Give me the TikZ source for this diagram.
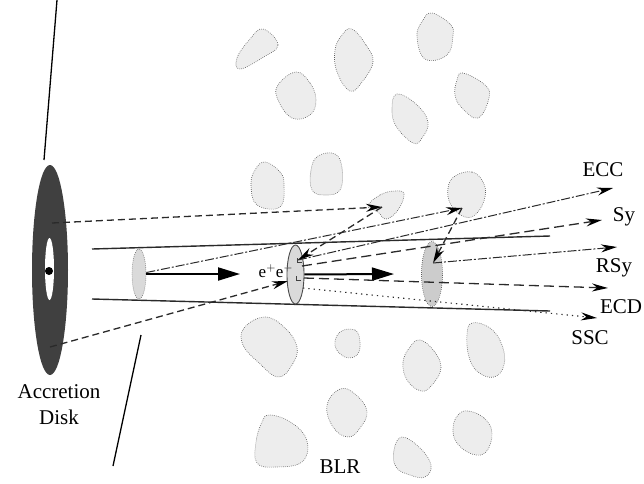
\documentclass[tikz,border=0pt]{standalone}
\usepackage{fontspec}
\setmainfont{Liberation Serif}
\usetikzlibrary{arrows.meta,shapes.geometric}
\definecolor{DiskGray}{HTML}{404040}
\definecolor{CloudFill}{HTML}{EDEDED}
\definecolor{BlobFill}{HTML}{DADADA}
\definecolor{LineGray}{HTML}{2A2A2A}

\begin{document}
\begin{tikzpicture}[x=1pt,y=-1pt,
    cloud/.style={draw=gray!70!black,dash pattern=on .7pt off 1.3pt,line width=.6pt,fill=CloudFill},
    blob/.style={ellipse,draw=gray!70!black,dash pattern=on .7pt off 1.3pt,line width=.6pt,fill=BlobFill,inner sep=0pt},
    lbl/.style={font=\fontsize{21}{26}\selectfont,inner sep=0pt},
    jet/.style={line width=1.4pt,LineGray},
    sight/.style={line width=1.3pt,black},
    push/.style={-{Triangle[length=22pt,width=13pt]},line width=2pt},
    ray/.style={-{Stealth[length=16pt,width=8pt,fill=black,color=black]},line width=1.3pt,LineGray},
    photon/.style={ray,dash pattern=on 7pt off 4pt},
    longdash/.style={ray,dash pattern=on 10pt off 5pt},
    dashdot/.style={ray,line width=1pt,dash pattern=on 9pt off 2pt on 2pt off 2pt},
    dots/.style={ray,line width=1.1pt,dash pattern=on 1.3pt off 4pt}]
  \useasboundingbox (0,0) rectangle (644,483);

  % broad line region clouds
  \draw[cloud] plot[smooth cycle,tension=.7] coordinates {(263,29) (278,45) (262,58) (240,69) (237,58) (250,39)};
  \draw[cloud] plot[smooth cycle,tension=.7] coordinates {(352,29) (366,45) (373,62) (362,82) (350,91) (337,72) (335,50) (342,35)};
  \draw[cloud] plot[smooth cycle,tension=.7] coordinates {(432,13) (450,24) (453,35) (447,55) (425,59) (417,36) (423,20)};
  \draw[cloud] plot[smooth cycle,tension=.7] coordinates {(296,72) (310,83) (316,100) (310,115) (292,118) (278,100) (278,85)};
  \draw[cloud] plot[smooth cycle,tension=.7] coordinates {(397,94) (416,104) (428,122) (422,138) (413,143) (396,126) (392,108)};
  \draw[cloud] plot[smooth cycle,tension=.7] coordinates {(463,73) (485,85) (489,98) (478,118) (462,108) (455,95) (457,80)};
  \draw[cloud] plot[smooth cycle,tension=.7] coordinates {(265,162) (280,172) (284,185) (280,207) (257,205) (251,185) (255,170)};
  \draw[cloud] plot[smooth cycle,tension=.7] coordinates {(318,156) (335,154) (342,168) (340,190) (325,195) (312,190) (311,170)};
  \draw[cloud] plot[smooth cycle,tension=.7] coordinates {(368,206) (380,195) (395,191) (404,194) (398,210) (386,219) (378,212)};
  \draw[cloud] plot[smooth cycle,tension=.7] coordinates {(455,176) (472,172) (483,182) (485,197) (477,213) (465,217) (451,205) (448,188)};
  \draw[cloud] plot[smooth cycle,tension=.7] coordinates {(265,317) (285,328) (297,347) (292,365) (278,377) (258,362) (243,345) (244,328)};
  \draw[cloud] plot[smooth cycle,tension=.7] coordinates {(340,332) (355,330) (360,342) (357,355) (345,357) (335,346)};
  \draw[cloud] plot[smooth cycle,tension=.7] coordinates {(420,340) (434,351) (441,368) (432,385) (421,391) (407,380) (403,362) (410,347)};
  \draw[cloud] plot[smooth cycle,tension=.7] coordinates {(472,323) (490,328) (502,345) (504,365) (494,377) (478,372) (469,357) (467,335)};
  \draw[cloud] plot[smooth cycle,tension=.7] coordinates {(340,389) (355,394) (367,411) (360,428) (348,437) (333,427) (327,405)};
  \draw[cloud] plot[smooth cycle,tension=.7] coordinates {(270,415) (292,423) (307,441) (302,462) (275,467) (257,463) (256,442) (262,422)};
  \draw[cloud] plot[smooth cycle,tension=.7] coordinates {(402,437) (420,448) (431,465) (425,477) (410,475) (396,467) (394,450)};
  \draw[cloud] plot[smooth cycle,tension=.7] coordinates {(468,411) (484,418) (492,433) (486,452) (472,454) (457,443) (453,428) (458,415)};

  % line of sight
  \coordinate (s1) at (57,0);
  \coordinate (s2) at (44,160);
  \coordinate (s3) at (141,335);
  \coordinate (s4) at (113,466);
  \draw[sight] (s1) -- (s2);
  \draw[sight] (s3) -- (s4);

  % disk and central engine
  \node[ellipse,fill=DiskGray,minimum width=36pt,minimum height=210pt,inner sep=0pt] (disk) at (50,270) {};
  \node[ellipse,fill=white,minimum width=9pt,minimum height=62pt,inner sep=0pt] (hole) at (49.5,269) {};
  \node[circle,fill=black,minimum size=8pt,inner sep=0pt] (bh) at (49,271) {};
  \node[lbl,align=center] (disklbl) at (59,405) {Accretion\\Disk};

  % jet walls
  \coordinate (jt1) at (92,249);
  \coordinate (jt2) at (550,236);
  \coordinate (jb1) at (92,299);
  \coordinate (jb2) at (550,311);
  \draw[jet] (jt1) -- (jt2);
  \draw[jet] (jb1) -- (jb2);

  % moving blobs
  \node[blob,minimum width=14pt,minimum height=50pt] (b1) at (139,274) {};
  \node[blob,solid,draw=gray!60!black,line width=.9pt,minimum width=17pt,minimum height=59pt] (b2) at (295.5,274.5) {};
  \node[blob,fill=gray!40,minimum width=21pt,minimum height=65pt] (b3) at (432,274) {};
  \node[font=\fontsize{17}{19}\selectfont,inner sep=0pt] (pair) at (276,271) {e$^{+}$e$^{-}$};
  \draw[gray!50!black,line width=.7pt] (297,258) -- (297,262) -- (302,262);
  \draw[gray!50!black,line width=.7pt] (296,276) -- (296,280) -- (301,280);

  \coordinate (pushA) at (240,274);
  \coordinate (pushB) at (394,274);
  \draw[push] (b1) -- (pushA);
  \draw[push] (b2) -- (pushB);

  % photon paths
  \coordinate (dU) at (52,223);
  \coordinate (dL) at (50,347);
  \coordinate (hitA) at (382,207);
  \coordinate (hitB) at (462,208);
  \coordinate (b2up) at (298,260);
  \coordinate (b2in) at (288,281);
  \coordinate (b2sy) at (302,266);
  \coordinate (b2ecd) at (304,278);
  \coordinate (b2ssc) at (303,288);
  \coordinate (b3up) at (433,263);
  \coordinate (eECC) at (613,188);
  \coordinate (eSy) at (602,220);
  \coordinate (eRSy) at (617,247);
  \coordinate (eECD) at (608,288);
  \coordinate (eSSC) at (597,318);

  \draw[photon] (dU) -- (hitA);
  \draw[photon] (dL) -- (b2in);
  \draw[photon] (hitA) -- (b2up);
  \draw[dashdot] (b1) -- (hitB);
  \draw[photon] (hitB) -- (b3up);
  \draw[dashdot] (b2up) -- (eECC);
  \draw[longdash] (b2sy) -- (eSy);
  \draw[dashdot] (b3up) -- (eRSy);
  \draw[longdash] (b2ecd) -- (eECD);
  \draw[dots] (b2ssc) -- (eSSC);

  % labels
  \node[lbl] (ecc) at (603,170) {ECC};
  \node[lbl] (sy) at (624,217) {Sy};
  \node[lbl] (rsy) at (614,268) {RSy};
  \node[lbl] (ecd) at (621,307) {ECD};
  \node[lbl] (ssc) at (590,338) {SSC};
  \node[lbl] (blr) at (340,467) {BLR};
\end{tikzpicture}
\end{document}
